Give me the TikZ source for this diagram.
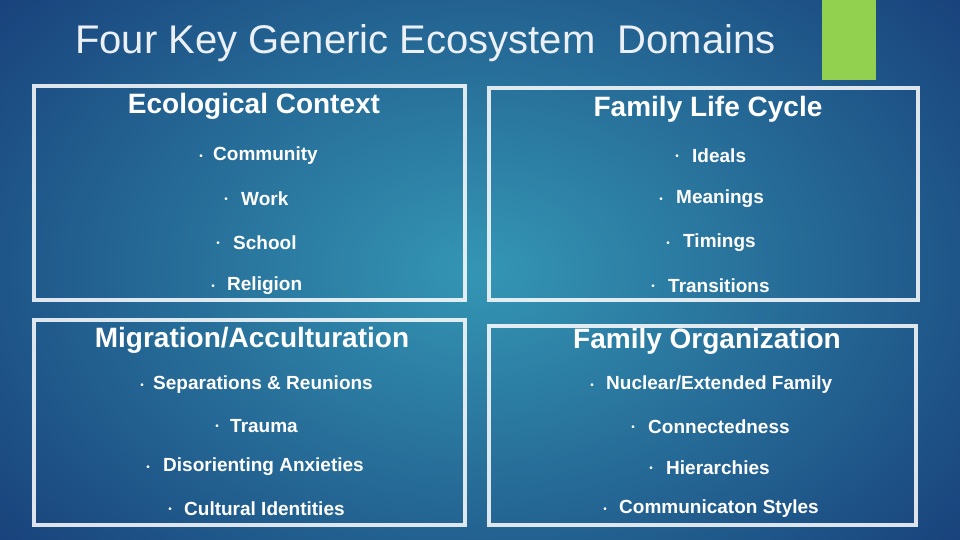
\documentclass[tikz,border=0pt]{standalone}
\usepackage{fontspec}
\setmainfont{Liberation Sans}
\definecolor{bgin}{RGB}{52,150,180}
\definecolor{bgout}{RGB}{22,58,118}
\definecolor{greenbar}{RGB}{146,208,80}
\definecolor{titlec}{RGB}{235,240,245}
\tikzset{
 box/.style={draw=white,draw opacity=0.85,line width=4pt},
 head/.style={font=\bfseries\fontsize{28}{31}\selectfont,text=white,inner sep=0},
 item/.style={font=\bfseries\fontsize{19}{21}\selectfont,text=white,anchor=west,inner sep=0},
 bul/.style={font=\fontsize{10}{11}\selectfont,text=white,inner sep=0}
}
\begin{document}
\begin{tikzpicture}[x=1pt,y=-1pt]
\useasboundingbox (0,0) rectangle (960,540);
\shade[inner color=bgin,outer color=bgout] (-200,-200) rectangle (1160,740);
\fill[greenbar] (822,0) rectangle (876,80);
\node[anchor=west,font=\fontsize{40}{44}\selectfont,text=titlec,inner sep=0] (title) at (75,43) {Four Key Generic Ecosystem\ \ Domains};
\draw[box] (34,86) rectangle (465,300);
\draw[box] (489,88) rectangle (918,300);
\draw[box] (34,320) rectangle (465,525);
\draw[box] (489,326) rectangle (916,525);
\node[head] (h1) at (254,106) {Ecological Context};
\node[head] (h2) at (708,109) {Family Life Cycle};
\node[head] (h3) at (252,340) {Migration/Acculturation};
\node[head] (h4) at (707,341) {Family Organization};
% TL
\node[bul] (b1) at (201,157) {•}; \node[item] (t1) at (213,156) {Community};
\node[bul] (b2) at (226,200) {•}; \node[item] (t2) at (241,199) {Work};
\node[bul] (b3) at (218,244) {•}; \node[item] (t3) at (233,243) {School};
\node[bul] (b4) at (213,287) {•}; \node[item] (t4) at (227,286) {Religion};
% TR
\node[bul] (b5) at (677,157) {•}; \node[item] (t5) at (692,156) {Ideals};
\node[bul] (b6) at (661,200) {•}; \node[item] (t6) at (676,199) {Meanings};
\node[bul] (b7) at (668,244) {•}; \node[item] (t7) at (683,243) {Timings};
\node[bul] (b8) at (653,287) {•}; \node[item] (t8) at (668,286) {Transitions};
% BL
\node[bul] (b9) at (142,386) {•}; \node[item] (t9) at (153,385) {Separations \& Reunions};
\node[bul] (b10) at (217,427) {•}; \node[item] (t10) at (230,426) {Trauma};
\node[bul] (b11) at (148,468) {•}; \node[item] (t11) at (163,467) {Disorienting Anxieties};
\node[bul] (b12) at (170,510) {•}; \node[item] (t12) at (184,509) {Cultural Identities};
% BR
\node[bul] (b13) at (592,386) {•}; \node[item] (t13) at (606,385) {Nuclear/Extended Family};
\node[bul] (b14) at (633,428) {•}; \node[item] (t14) at (648,427) {Connectedness};
\node[bul] (b15) at (651,469) {•}; \node[item] (t15) at (666,468) {Hierarchies};
\node[bul] (b16) at (605,510) {•}; \node[item] (t16) at (619,509) {Communicaton Styles};
\end{tikzpicture}
\end{document}
